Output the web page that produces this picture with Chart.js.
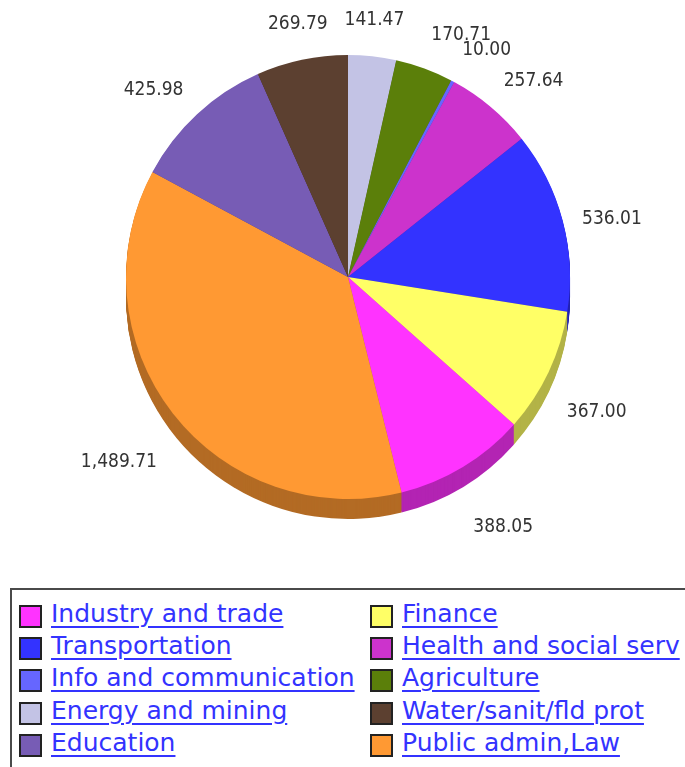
<!DOCTYPE html>
<html>
<head>
<meta charset="utf-8">
<script src="https://cdn.jsdelivr.net/npm/chart.js@4.4.0/dist/chart.umd.min.js"></script>
<style>
  body { margin: 0; background: #fff; width: 685px; height: 767px; overflow: hidden; position: relative; }
  #chartBox { position: absolute; left: 0; top: 0; width: 685px; height: 585px; }
  #legend {
    position: absolute; left: 10px; top: 588px; width: 720px; height: 220px;
    border: 2px solid #4a4a4a; box-sizing: border-box;
    padding: 10px 0 0 7px;
    display: grid; grid-template-columns: 351px auto; grid-auto-rows: 32.3px;
    font-family: "DejaVu Sans", sans-serif; font-size: 25px;
  }
  .item { display: flex; align-items: center; white-space: nowrap; }
  .swatch { width: 23px; height: 23px; border: 2px solid #222; box-sizing: border-box; margin-right: 9px; flex: none; }
  .item a { color: #3333ff; text-decoration: underline; text-underline-offset: 4px; text-decoration-thickness: 2px; position: relative; top: -3px; }
</style>
</head>
<body>
<div id="chartBox"><canvas id="myChart" width="685" height="585"></canvas></div>
<div id="legend"></div>
<script>
// Slices in drawing order, clockwise from 12 o'clock
const categories = ["Energy and mining", "Agriculture", "Info and communication",
                    "Health and social serv", "Transportation", "Finance",
                    "Industry and trade", "Public admin,Law", "Education",
                    "Water/sanit/fld prot"];
const values = [141.47, 170.71, 10.00, 257.64, 536.01, 367.00, 388.05, 1489.71, 425.98, 269.79];
const colors = ["#C3C3E5", "#5B7F0A", "#6666FF", "#CC33CC", "#3333FF",
                "#FFFF66", "#FF33FF", "#FF9933", "#775CB5", "#5C4030"];
// Legend is listed in a different order than the pie
const legendOrder = ["Industry and trade", "Finance", "Transportation", "Health and social serv",
                     "Info and communication", "Agriculture", "Energy and mining",
                     "Water/sanit/fld prot", "Education", "Public admin,Law"];

const DEPTH = 20;

function darker(hex, f) {
    let n = parseInt(hex.slice(1), 16);
    let r = Math.round(((n >> 16) & 255) * f);
    let g = Math.round(((n >> 8) & 255) * f);
    let b = Math.round((n & 255) * f);
    return "rgb(" + r + "," + g + "," + b + ")";
}

function fmt(v) {
    return v.toLocaleString("en-US", {minimumFractionDigits: 2, maximumFractionDigits: 2});
}

// Draw the pie's side wall by stacking darker copies of each arc below it
const depthPlugin = {
    id: "depth",
    beforeDatasetsDraw(chart) {
        let ctx = chart.ctx;
        let meta = chart.getDatasetMeta(0);
        ctx.save();
        for (let d = DEPTH; d >= 1; d--) {
            meta.data.forEach(function(arc, i) {
                ctx.beginPath();
                ctx.moveTo(arc.x, arc.y + d);
                ctx.arc(arc.x, arc.y + d, arc.outerRadius, arc.startAngle, arc.endAngle);
                ctx.closePath();
                ctx.fillStyle = darker(colors[i], 0.7);
                ctx.fill();
            });
        }
        ctx.restore();
    }
};

// Value labels around the pie, no link lines
const labelPlugin = {
    id: "valueLabels",
    afterDatasetsDraw(chart) {
        let ctx = chart.ctx;
        let meta = chart.getDatasetMeta(0);
        ctx.save();
        ctx.font = "19px 'DejaVu Sans Condensed', 'DejaVu Sans', sans-serif";
        ctx.fillStyle = "#333";
        ctx.textBaseline = "middle";
        meta.data.forEach(function(arc, i) {
            let mid = (arc.startAngle + arc.endAngle) / 2;
            let c = Math.cos(mid), s = Math.sin(mid);
            let x = arc.x + c * (arc.outerRadius + 20);
            // lower half sits below the side wall
            let y = arc.y + (s > 0 ? DEPTH : DEPTH / 2) + s * arc.outerRadius * 1.21;
            if (c > 0.25) ctx.textAlign = "left";
            else if (c < -0.25) ctx.textAlign = "right";
            else ctx.textAlign = "center";
            ctx.fillText(fmt(values[i]), x, y);
        });
        ctx.restore();
    }
};

const config = {
    type: "pie",
    data: {
        labels: categories,
        datasets: [{
            data: values,
            backgroundColor: colors,
            borderWidth: 0
        }]
    },
    options: {
        responsive: false,
        animation: false,
        layout: { padding: { top: 55, bottom: 86, left: 100, right: 89 } },
        plugins: {
            legend: { display: false },
            tooltip: { enabled: false }
        }
    },
    plugins: [depthPlugin, labelPlugin]
};

const myChart = new Chart(document.getElementById("myChart"), config);

// HTML legend, two columns
let legendHtml = "";
for (let i = 0; i < legendOrder.length; i++) {
    let idx = categories.indexOf(legendOrder[i]);
    legendHtml += "<div class='item'><span class='swatch' style='background:" + colors[idx] +
        "'></span><a href='#'>" + legendOrder[i] + "</a></div>";
}
document.getElementById("legend").innerHTML = legendHtml;
</script>
</body>
</html>
